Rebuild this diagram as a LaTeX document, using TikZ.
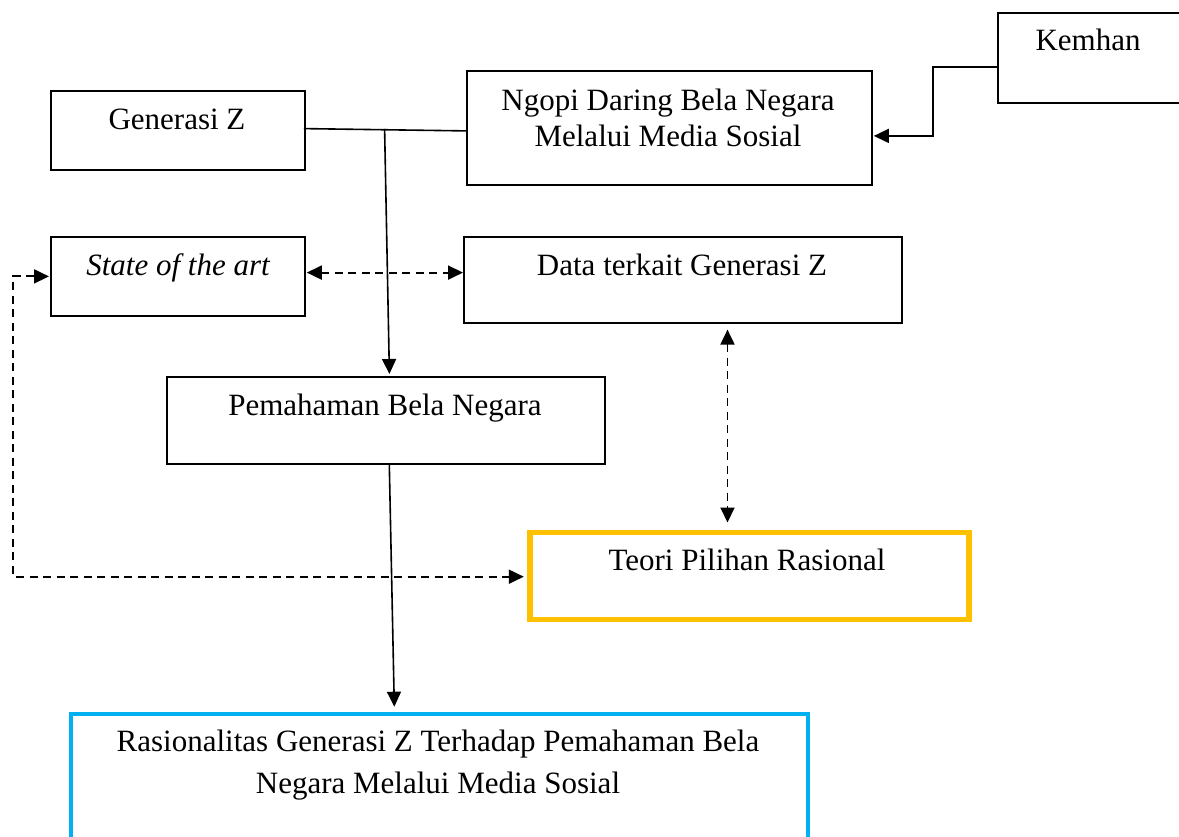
\documentclass[tikz,border=0pt]{standalone}
\usepackage{fontspec}
\setmainfont{Liberation Serif}
\usetikzlibrary{arrows.meta,calc}
\definecolor{orangeY}{HTML}{FFC000}
\definecolor{blueS}{HTML}{00B0F0}
\begin{document}
\begin{tikzpicture}[x=1bp,y=-1bp,
  box/.style={draw=black, line width=1.8bp, inner sep=0pt, anchor=north west},
  lbl/.style={anchor=base, inner sep=0pt, font=\fontsize{31bp}{36bp}\selectfont},
  conn/.style={line width=1.6bp, draw=black},
  tip/.style={-{Triangle[length=15bp,width=14bp]}},
  tips/.style={{Triangle[length=15bp,width=14bp]}-{Triangle[length=15bp,width=14bp]}},
  dsh/.style={line width=1.9bp, dash pattern=on 8bp off 5.5bp},
]
\useasboundingbox (0,0) rectangle (1179,837);
% boxes
\node[box, minimum width=254bp, minimum height=79bp] (gen) at (50,90) {};
\node[box, minimum width=405bp, minimum height=114bp] (ngopi) at (466,70) {};
\node[box, minimum width=185bp, minimum height=90bp] (kem) at (997,11.7) {};
\node[box, minimum width=254bp, minimum height=79bp] (state) at (50,236) {};
\node[box, minimum width=438bp, minimum height=86bp] (data) at (463,236.3) {};
\node[box, minimum width=438bp, minimum height=87bp] (pem) at (166,376) {};
\node[box, draw=orangeY, line width=5.5bp, minimum width=439bp, minimum height=87bp] (teori) at (527,529.5) {};
\node[box, draw=blueS, line width=4bp, minimum width=737bp, minimum height=140bp] (ras) at (69.4,712) {};
% labels
\node[lbl] (tgen) at (177,129) {Generasi Z};
\node[lbl] (tngopi1) at (668,110) {Ngopi Daring Bela Negara};
\node[lbl] (tngopi2) at (668,146.7) {Melalui Media Sosial};
\node[lbl] (tkem) at (1088,50.7) {Kemhan};
\node[lbl] (tstate) at (178,275) {\itshape State of the art};
\node[lbl] (tdata) at (682,275) {Data terkait Generasi Z};
\node[lbl] (tpem) at (385,415) {Pemahaman Bela Negara};
\node[lbl] (tteori) at (747,570) {Teori Pilihan Rasional};
\node[lbl] (tras1) at (438,751.7) {Rasionalitas Generasi Z Terhadap Pemahaman Bela};
\node[lbl] (tras2) at (438,793.3) {Negara Melalui Media Sosial};
% connectors
\coordinate (j) at (384.6,128.8);
\draw[conn] ($(gen.east)+(-2,-1.8)$) -- ($(ngopi.west)+(0,3)$);
\draw[conn, tip] (j) -- ($(pem.north)+(3.5,-2)$);
\draw[conn, tip] ($(kem.west)+(0,9.3)$) -- ++(-64,0) |- ($(ngopi.east)+(1,8)$);
\draw[conn, dsh, tips] ($(state.east)+(1,-3.8)$) -- ($(data.west |- state.east)+(0,-3.8)$);
\coordinate (lc) at (13.4,576.7);
\draw[conn, dsh, tips] ($(state.west)+(-1,0)$) -| (lc) -- ($(lc -| teori.west)+(-3.2,0)$);
\coordinate (vc) at (727.5,0);
\draw[conn, dsh, tips] ($(data.south -| vc)+(0,5.5)$) -- ($(teori.north -| vc)+(0,-7)$);
\draw[conn, tip] ($(pem.south)+(3.4,0)$) -- ($(ras.north)+(-45.6,-5.3)$);
\end{tikzpicture}
\end{document}
